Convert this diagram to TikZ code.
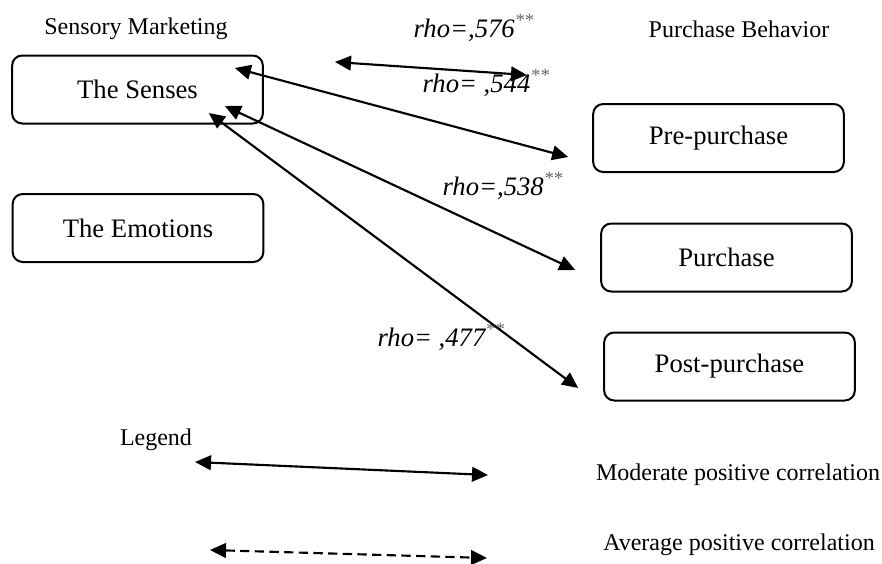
\documentclass[tikz,border=0pt]{standalone}
\usepackage{fontspec}
\setmainfont{Liberation Serif}
\usepackage{tikz}
\usepackage{xcolor}
\usetikzlibrary{arrows.meta}

\begin{document}
\begin{tikzpicture}[x=0.75pt, y=-0.75pt, thick,
box/.style={rectangle, draw=black, line width=1.5pt, rounded corners=7.5pt, minimum width=188pt, minimum height=51pt, align=center, font=\fontsize{20}{24}\selectfont},
head/.style={inner sep=0pt, font=\fontsize{18}{22}\selectfont},
rho/.style={inner sep=0pt, anchor=base west, font=\fontsize{20}{24}\selectfont\itshape},
arrow/.style={{Triangle[length=12pt,width=11pt]}-{Triangle[length=12pt,width=11pt]}, line width=1.6pt, black}]
\useasboundingbox (0,0) rectangle (882,564);
\node[head] (sm) at (136,29) {Sensory Marketing};
\node[head] (pb) at (739,29) {Purchase Behavior};
\node[box] (senses) at (137.5,89.5) {The Senses};
\node[box] (emotions) at (138,228) {The Emotions};
\node[box] (pre) at (718.5,138) {Pre-purchase};
\node[box] (purchase) at (726.5,257.5) {Purchase};
\node[box] (post) at (729.5,366.5) {Post-purchase};
\node[rho] (r576) at (413,37) {rho=,576\textsuperscript{\textcolor{black!60}{**}}};
\node[rho] (r544) at (422,92) {rho= ,544\textsuperscript{\textcolor{black!60}{**}}};
\node[rho] (r538) at (442,195) {rho=,538\textsuperscript{\textcolor{black!60}{**}}};
\node[rho] (r477) at (377,346) {rho= ,477\textsuperscript{\textcolor{black!60}{**}}};
\coordinate (t1) at (335,62);
\coordinate (t2) at (527,75);
\draw[arrow] (t1) -- (t2);
\draw[arrow] ([shift={(-29,-21.5)}]senses.east) -- ([shift={(-24,19)}]pre.west);
\draw[arrow] ([shift={(-39,16.5)}]senses.east) -- ([shift={(-25,12.5)}]purchase.west);
\draw[arrow] ([shift={(-55,23.5)}]senses.east) -- ([shift={(-25,21.5)}]post.west);
% legend
\node[head] (legend) at (156,440) {Legend};
\coordinate (l1) at (195,462);
\coordinate (l2) at (488,475);
\coordinate (l3) at (210,550);
\coordinate (l4) at (487,558);
\draw[arrow] (l1) -- (l2);
\draw[arrow, dash pattern=on 7pt off 4pt] (l3) -- (l4);
\node[head] (moderate) at (738,475) {Moderate positive correlation};
\node[head] (average) at (739,545) {Average positive correlation};
\end{tikzpicture}
\end{document}
